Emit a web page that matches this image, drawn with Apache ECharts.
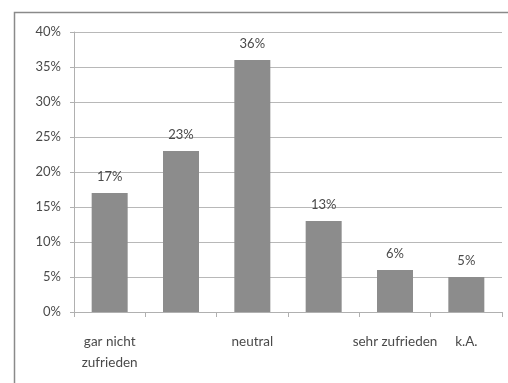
<!DOCTYPE html>
<html>
<head>
<meta charset="utf-8">
<script src="https://cdn.jsdelivr.net/npm/echarts@6/dist/echarts.min.js"></script>
<style>
  html, body { margin: 0; padding: 0; background: #fff; }
  #chart { width: 508px; height: 383px; }
</style>
</head>
<body>
<div id="chart"></div>
<script>
// Zufriedenheit – Anteile je Antwortkategorie (in %)
const categories = ['gar nicht\nzufrieden', '', 'neutral', '', 'sehr zufrieden', 'k.A.'];
const shares = [17, 23, 36, 13, 6, 5];
const yTicks = [0, 5, 10, 15, 20, 25, 30, 35, 40];

const textColor = '#4a4a4a';
const font = 'Lato, "Open Sans", sans-serif';

const chart = echarts.init(document.getElementById('chart'), null, { renderer: 'canvas' });
chart.setOption({
  animation: false,
  backgroundColor: '#fff',
  graphic: [{
    type: 'rect',
    shape: { x: 14.5, y: 12.5, width: 510, height: 400 },
    style: { fill: 'none', stroke: '#8a8a8a', lineWidth: 1.5 },
    silent: true
  }],
  grid: { left: 74, right: 6, top: 32, bottom: 71 },
  xAxis: {
    type: 'category',
    data: categories,
    boundaryGap: true,
    axisLine: { lineStyle: { color: '#b0b0b0', width: 1 } },
    axisTick: { show: true, length: 5, lineStyle: { color: '#b0b0b0' } },
    axisLabel: {
      interval: 0,
      color: textColor,
      fontFamily: font,
      fontSize: 13.5,
      margin: 19,
      lineHeight: 21
    }
  },
  yAxis: {
    type: 'value',
    min: yTicks[0],
    max: yTicks[yTicks.length - 1],
    interval: 5,
    axisLine: { show: true, lineStyle: { color: '#b0b0b0', width: 1 } },
    axisTick: { show: true, length: 4, lineStyle: { color: '#b0b0b0' } },
    splitLine: { lineStyle: { color: '#b8b8b8', width: 1 } },
    axisLabel: {
      color: textColor,
      fontFamily: font,
      fontSize: 13,
      margin: 13,
      formatter: v => v + '%'
    }
  },
  series: [{
    type: 'bar',
    data: shares,
    barWidth: 36,
    itemStyle: { color: '#8c8c8c' },
    label: {
      show: true,
      position: 'top',
      distance: 10,
      color: textColor,
      fontFamily: font,
      fontSize: 13,
      formatter: p => p.value + '%'
    }
  }]
});
</script>
</body>
</html>
